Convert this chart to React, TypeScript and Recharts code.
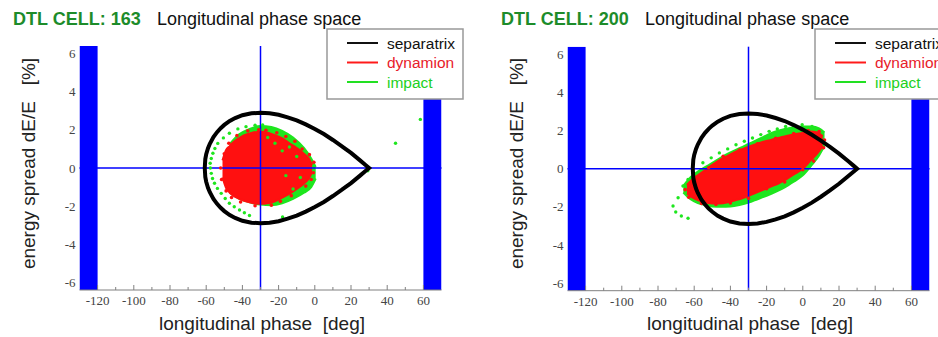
import React from 'react';
import { ComposedChart, XAxis, YAxis, Area, Scatter, ReferenceArea, ReferenceLine } from 'recharts';

// separatrix of the bucket (phi_s = -30 deg), same in both cells
const SEP_PHI = [-60.8, -60.5, -60, -59, -58, -56, -54, -52, -50, -47, -44, -40, -35, -30, -25, -20, -15, -10, -5, 0, 5, 10, 15, 20, 25, 28, 30];
const SEP_UPPER = [0, 0.47, 0.72, 1.04, 1.27, 1.62, 1.88, 2.09, 2.26, 2.47, 2.62, 2.77, 2.87, 2.9, 2.87, 2.79, 2.66, 2.5, 2.29, 2.05, 1.78, 1.47, 1.14, 0.79, 0.4, 0.16, 0];
const SEP_LOWER = [0, -0.47, -0.72, -1.04, -1.27, -1.62, -1.88, -2.09, -2.26, -2.47, -2.62, -2.77, -2.87, -2.9, -2.87, -2.79, -2.66, -2.5, -2.29, -2.05, -1.78, -1.47, -1.14, -0.79, -0.4, -0.16, 0];

// cell 163: dynamion (red) core, lower / upper edge
const RED163_PHI = [-51, -49, -47, -45, -42, -39, -35, -30, -26, -22, -18, -14, -10, -6, -3, -1.5];
const RED163_LO = [-0.5, -1.05, -1.3, -1.45, -1.6, -1.72, -1.82, -1.88, -1.85, -1.75, -1.55, -1.35, -1.1, -0.82, -0.5, -0.2];
const RED163_HI = [0.4, 0.95, 1.15, 1.35, 1.55, 1.72, 1.84, 1.9, 1.85, 1.72, 1.55, 1.3, 1.05, 0.75, 0.45, 0.15];
// cell 163: impact (green) core
const GREEN163_PHI = [-47, -42, -36, -30, -24, -18, -12, -6, -2, 0.5];
const GREEN163_LO = [-1.3, -1.6, -1.8, -1.92, -1.95, -1.85, -1.62, -1.3, -1.0, -0.55];
const GREEN163_HI = [1.25, 1.75, 2.05, 2.2, 2.15, 1.95, 1.6, 1.05, 0.5, 0.05];
// cell 163: loose particles
const RED163_DOT_PHI = [-52, -51.5, -50, -49, -47.5, -46, -43, -41, -37, -33, -31, -27, -24, -21, -19, -16, -13, -11, -7, -5, -3, -2, -0.5, -0.8];
const RED163_DOT_DE = [0, -0.6, 0.75, -1.2, 1.3, -1.55, 1.7, -1.78, 1.95, -1.98, 2.0, 1.98, -1.95, 1.85, -1.75, 1.65, -1.45, 1.4, 1.0, -0.95, 0.7, -0.6, 0.3, -0.25];
const GREEN163_DOT_PHI = [-28.8, -33, -38, -42.5, -47.2, -50.5, -53.6, -55.2, -56.3, -57.2, -57.8, -57.7, -57.2, -56.5, -55.4, -53.8, -51.7, -49.5, -47.2, -44.5, -41.6, -38.9, -36.1, -17.8, 44.6, 58.3, 29.3, -22, -18, -14, -10, -16, -12, -26, -8];
const GREEN163_DOT_DE = [2.26, 2.24, 2.17, 2.05, 1.82, 1.58, 1.29, 1.02, 0.77, 0.5, 0.25, 0, -0.28, -0.55, -0.8, -1.07, -1.33, -1.6, -1.85, -2.03, -2.2, -2.35, -2.49, -2.57, 1.3, 2.55, -0.15, 1.3, 0.9, 1.1, 0.6, -0.4, -1.1, 1.6, -0.5];

// cell 200
const RED200_PHI = [-64, -61, -58, -55, -50, -46, -41, -37, -32, -28, -23, -18, -13, -9, -5, 0, 4, 8, 11];
const RED200_LO = [-1.3, -1.5, -1.65, -1.75, -1.82, -1.82, -1.75, -1.65, -1.5, -1.35, -1.15, -0.95, -0.75, -0.55, -0.3, 0.0, 0.4, 0.8, 1.2];
const RED200_HI = [-0.85, -0.55, -0.35, -0.15, 0.2, 0.45, 0.7, 0.9, 1.08, 1.22, 1.38, 1.5, 1.62, 1.72, 1.8, 1.88, 1.95, 1.9, 1.7];
const GREEN200_PHI = [-66, -62, -58, -54, -50, -45, -40, -35, -30, -25, -20, -15, -10, -5, 0, 5, 9, 12];
const GREEN200_LO = [-1.25, -1.6, -1.8, -1.9, -1.98, -2.0, -1.98, -1.9, -1.78, -1.6, -1.42, -1.22, -0.98, -0.68, -0.35, 0.2, 0.7, 1.2];
const GREEN200_HI = [-0.9, -0.45, -0.15, 0.08, 0.3, 0.6, 0.85, 1.08, 1.3, 1.52, 1.75, 1.95, 2.08, 2.18, 2.22, 2.22, 2.12, 1.9];
const RED200_DOT_PHI = [-65, -63, -60, -56, -52, -48, -44, -40, -35, -30, -25, -20, -15, -10, -5, 0, 3, 6, 9, 11.5, 12];
const RED200_DOT_DE = [-1.1, -1.5, -0.45, -1.82, 0.05, -1.88, 0.65, -1.8, 0.98, -1.55, 1.3, -1.05, 1.6, -0.7, 1.85, -0.05, 2.0, 0.4, 1.95, 1.1, 1.5];
const GREEN200_DOT_PHI = [-71.7, -70.2, -67.1, -63.4, -68.9, -66.2, -63.4, -60.7, -55.2, -50.6, -46.1, -41.5, -36.9, -32.3, -27.8, -23.2, -18.6, -14.1, -9.5, -4.9, -0.35, 5.1, 8.7];
const GREEN200_DOT_DE = [-1.96, -2.27, -2.48, -2.6, -1.52, -0.91, -0.56, -0.21, 0.31, 0.57, 0.83, 1.04, 1.26, 1.44, 1.61, 1.79, 1.96, 2.08, 2.22, 2.27, 2.31, 2.22, 2.05];

const X_TICKS = [-120, -110, -100, -90, -80, -70, -60, -50, -40, -30, -20, -10, 0, 10, 20, 30, 40, 50, 60];
const Y_TICKS = [-6, -4, -2, 0, 2, 4, 6];
const LEGEND_NAMES = ['separatrix', 'dynamion', 'impact'];
const LEGEND_COLORS = ['#111111', '#ff1a1a', '#22e022'];
const TEXT_COLORS = ['#111111', '#e8202a', '#22d022'];

const SANS = '"Liberation Sans", Arial, sans-serif';
const SERIF = '"Liberation Serif", "Times New Roman", serif';
const BLUE = '#0000ff';
const RED = '#ff1010';
const GREEN = '#1ee61e';
const AXIS = '#808080';
const TICK_MARGIN = 4;

type Pt = { phi: number; de: number };
const zipPts = (phi: number[], de: number[]): Pt[] => phi.map((p, i) => ({ phi: p, de: de[i] }));

const sepLoop = (): Pt[] => [...zipPts(SEP_PHI, SEP_UPPER), ...zipPts(SEP_PHI, SEP_LOWER).reverse()];

function cloudTable(rp: number[], rlo: number[], rhi: number[], gp: number[], glo: number[], ghi: number[]) {
    const rows = new Map<number, any>();
    rp.forEach((p, i) => {
        const r = rows.get(p) ?? { phi: p };
        r.red = [rlo[i], rhi[i]];
        rows.set(p, r);
    });
    gp.forEach((p, i) => {
        const r = rows.get(p) ?? { phi: p };
        r.green = [glo[i], ghi[i]];
        rows.set(p, r);
    });
    return [...rows.values()].sort((a, b) => a.phi - b.phi);
}

const dot = (r: number, fill: string) => (p: any) => <circle cx={p.cx} cy={p.cy} r={r} fill={fill} />;
const noDot = () => <g />;

const BottomTick = (props: any) => {
    const { x, y, payload } = props;
    const v = payload.value;
    const major = v % 20 === 0;
    const axisY = y - TICK_MARGIN;
    return (
        <g>
            <line x1={x} x2={x} y1={axisY} y2={axisY - (major ? 5 : 3)} stroke={AXIS} strokeWidth={1} />
            {major && (
                <text x={x} y={axisY + 15} textAnchor="middle" fontFamily={SERIF} fontSize={13} fill="#444">
                    {v}
                </text>
            )}
        </g>
    );
};

const TopTick = (props: any) => {
    const { x, y, payload } = props;
    const major = payload.value % 20 === 0;
    return <line x1={x} x2={x} y1={y} y2={y + (major ? 6 : 3)} stroke={AXIS} strokeWidth={1} />;
};

type PanelProps = {
    cell: number;
    left: number;
    top: number;
    table: any[];
    redDots: Pt[];
    greenDots: Pt[];
};

const Panel: React.FC<PanelProps> = ({ cell, left, top, table, redDots, greenDots }) => (
    <div style={{ position: 'absolute', left, top: 0, width: 470, height: 337 }}>
        <ComposedChart width={470} height={337} data={table} margin={{ top, right: 28.5, bottom: 0, left: 0 }}>
            <XAxis
                xAxisId="top"
                orientation="top"
                type="number"
                dataKey="phi"
                domain={[-130, 70]}
                ticks={X_TICKS}
                interval={0}
                height={0}
                tickSize={0}
                tickMargin={0}
                tickLine={false}
                tick={<TopTick />}
                axisLine={{ stroke: AXIS }}
                allowDataOverflow
            />
            <XAxis
                type="number"
                dataKey="phi"
                domain={[-130, 70]}
                ticks={X_TICKS}
                interval={0}
                height={337 - top - 244}
                tickSize={0}
                tickMargin={TICK_MARGIN}
                tickLine={false}
                tick={<BottomTick />}
                axisLine={{ stroke: AXIS }}
                allowDataOverflow
            />
            <YAxis
                type="number"
                dataKey="de"
                domain={[-6.4, 6.4]}
                ticks={Y_TICKS}
                interval={0}
                width={79.5}
                tickSize={0}
                tickMargin={4}
                tickLine={false}
                axisLine={false}
                tick={{ fontFamily: SERIF, fontSize: 13, fill: '#444' }}
                allowDataOverflow
            />
            <ReferenceArea x1={-130} x2={-120} y1={-6.4} y2={6.4} fill={BLUE} fillOpacity={1} stroke="none" ifOverflow="hidden" />
            <ReferenceArea x1={60} x2={70} y1={-6.4} y2={6.4} fill={BLUE} fillOpacity={1} stroke="none" ifOverflow="hidden" />
            <Area dataKey="green" type="monotone" fill={GREEN} fillOpacity={1} stroke={GREEN} strokeWidth={2} connectNulls dot={false} activeDot={false} isAnimationActive={false} />
            <Scatter data={greenDots} shape={dot(1.7, GREEN)} isAnimationActive={false} />
            <Area dataKey="red" type="monotone" fill={RED} fillOpacity={1} stroke={RED} strokeWidth={2} connectNulls dot={false} activeDot={false} isAnimationActive={false} />
            <Scatter data={redDots} shape={dot(1.8, RED)} isAnimationActive={false} />
            <Scatter data={sepLoop()} line={{ stroke: '#000', strokeWidth: 4 }} lineType="joint" shape={noDot} isAnimationActive={false} />
            <ReferenceLine x={-30} stroke={BLUE} strokeWidth={1.5} />
            <ReferenceLine y={0} stroke={BLUE} strokeWidth={1.5} />
        </ComposedChart>
        <svg width={470} height={337} style={{ position: 'absolute', left: 0, top: 0, pointerEvents: 'none' }}>
            <text x={13} y={25} fontFamily={SANS} fontSize={18} fontWeight="bold" fill="#1d8c2a">
                DTL CELL: {cell}
            </text>
            <text x={157} y={25} fontFamily={SANS} fontSize={18} fill="#111">
                Longitudinal phase space
            </text>
            <rect x={327} y={29} width={136} height={70} fill="#fff" stroke="#999" strokeWidth={1.5} />
            {LEGEND_NAMES.map((name, i) => (
                <g key={name}>
                    <line x1={347} x2={378} y1={43 + i * 19.5} y2={43 + i * 19.5} stroke={LEGEND_COLORS[i]} strokeWidth={2} />
                    <text x={387} y={48.5 + i * 19.5} fontFamily={SANS} fontSize={15.5} fill={TEXT_COLORS[i]}>
                        {name}
                    </text>
                </g>
            ))}
            <text x={262} y={330} textAnchor="middle" fontFamily={SANS} fontSize={19} fill="#222" style={{ whiteSpace: 'pre' }}>
                {'longitudinal phase  [deg]'}
            </text>
            <text
                x={0}
                y={0}
                transform="translate(34.5,163.5) rotate(-90)"
                textAnchor="middle"
                fontFamily={SANS}
                fontSize={19}
                fill="#222"
                style={{ whiteSpace: 'pre' }}
            >
                {'energy spread dE/E   [%]'}
            </text>
        </svg>
    </div>
);

export default function App() {
    const table163 = cloudTable(RED163_PHI, RED163_LO, RED163_HI, GREEN163_PHI, GREEN163_LO, GREEN163_HI);
    const table200 = cloudTable(RED200_PHI, RED200_LO, RED200_HI, GREEN200_PHI, GREEN200_LO, GREEN200_HI);
    return (
        <div style={{ position: 'absolute', left: 0, top: 0, width: 938, height: 337, overflow: 'hidden', background: '#fff' }}>
            <Panel
                cell={163}
                left={0}
                top={46}
                table={table163}
                redDots={zipPts(RED163_DOT_PHI, RED163_DOT_DE)}
                greenDots={zipPts(GREEN163_DOT_PHI, GREEN163_DOT_DE)}
            />
            <Panel
                cell={200}
                left={487.5}
                top={46.7}
                table={table200}
                redDots={zipPts(RED200_DOT_PHI, RED200_DOT_DE)}
                greenDots={zipPts(GREEN200_DOT_PHI, GREEN200_DOT_DE)}
            />
        </div>
    );
}
